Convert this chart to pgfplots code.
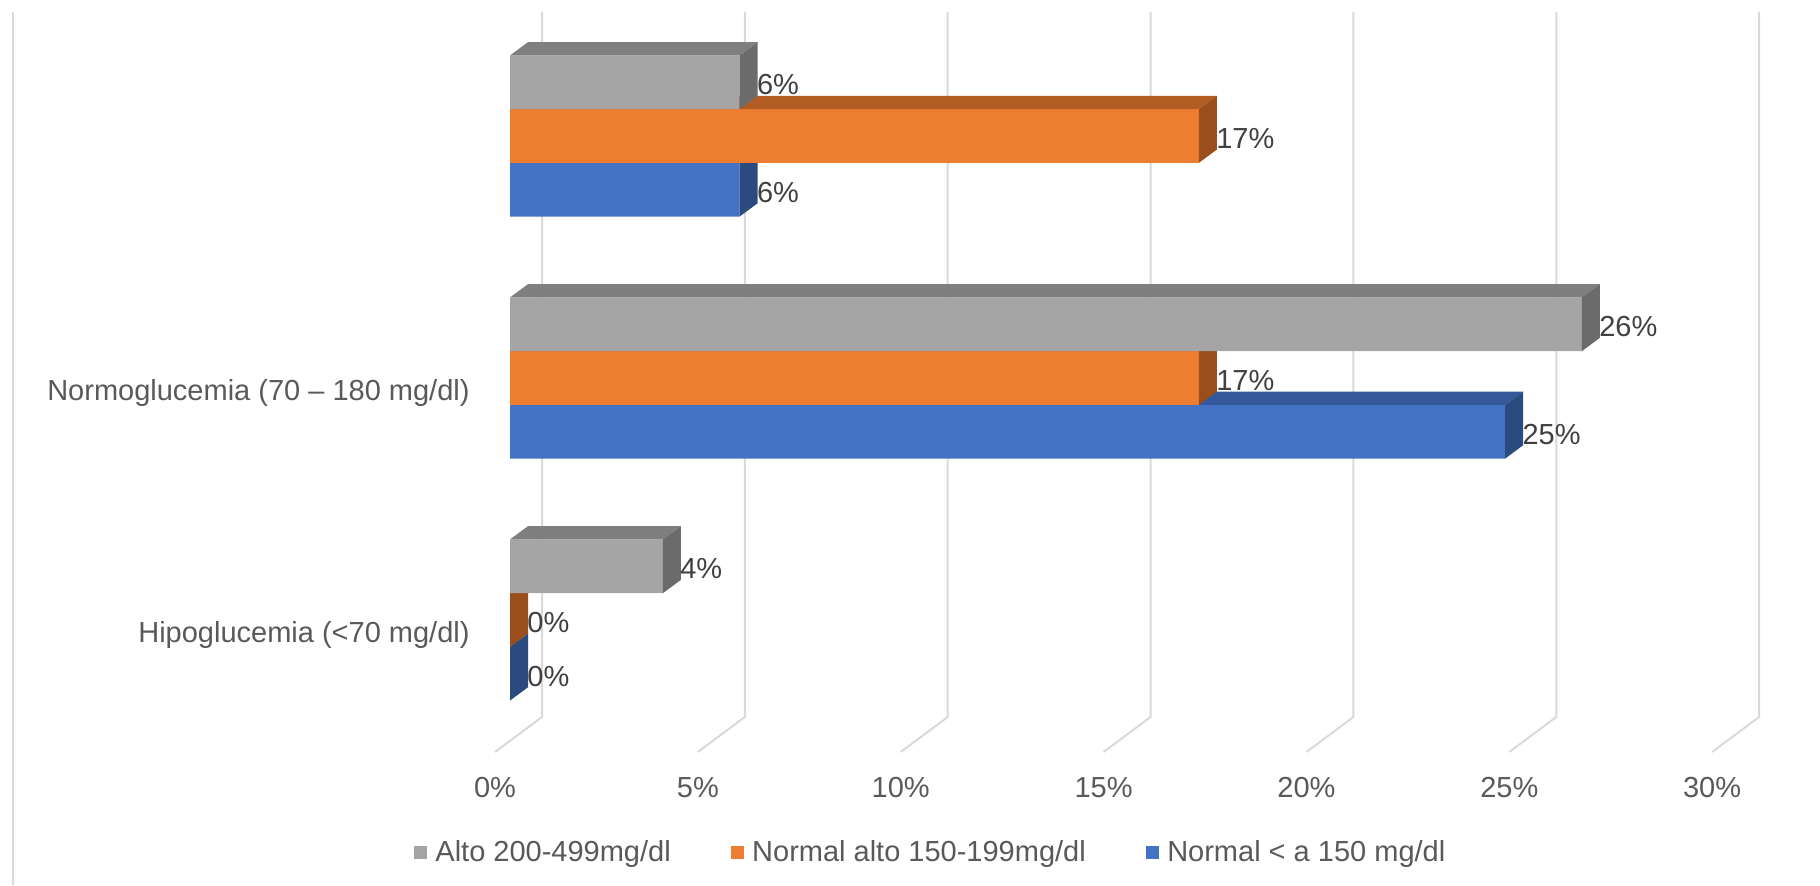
\documentclass[border=0pt]{standalone}
\usepackage{fontspec}
\setmainfont{Liberation Sans}
\usepackage{pgfplots}
\pgfplotsset{compat=1.18}
\definecolor{gA}{HTML}{A5A5A5}\definecolor{gT}{HTML}{7F7F7F}\definecolor{gS}{HTML}{6B6B6B}
\definecolor{oA}{HTML}{ED7D31}\definecolor{oT}{HTML}{B35C23}\definecolor{oS}{HTML}{9A4E1C}
\definecolor{bA}{HTML}{4472C4}\definecolor{bT}{HTML}{345899}\definecolor{bS}{HTML}{2B4A80}
\definecolor{gridc}{HTML}{D9D9D9}\definecolor{lab}{HTML}{595959}\definecolor{dlab}{HTML}{404040}
\newcommand{\fs}{\fontsize{14.5}{17.4}\selectfont}
% #1 category, #2 value, #3 bar centre offset (pt), #4 top colour, #5 side colour
\newcommand{\faces}[5]{%
 \fill[#4] ([yshift=#3pt+13.425pt]axis cs:0,#1) -- ([yshift=#3pt+13.425pt]axis cs:#2,#1) -- ([xshift=9pt,yshift=#3pt+20.075pt]axis cs:#2,#1) -- ([xshift=9pt,yshift=#3pt+20.075pt]axis cs:0,#1) -- cycle;
 \fill[#5] ([yshift=#3pt+13.425pt]axis cs:#2,#1) -- ([yshift=#3pt-13.425pt]axis cs:#2,#1) -- ([xshift=9pt,yshift=#3pt-6.775pt]axis cs:#2,#1) -- ([xshift=9pt,yshift=#3pt+20.075pt]axis cs:#2,#1) -- cycle;}
\pgfplotsset{
  lbl/.style={point meta=x,
    nodes near coords={\pgfmathprintnumber[fixed,precision=0,assume math mode=true]{\pgfplotspointmeta}\%},
    nodes near coords style={anchor=west, xshift=8.5pt, yshift=#1-1.3pt, inner sep=0pt, text=dlab, font=\fs}},
}
\begin{document}
\begin{tikzpicture}
\begin{axis}[
  scale only axis, width=910pt, height=442.5pt,
  xmin=-12.5709, xmax=32.2899, ymin=-1.0950, ymax=2.5620,
  hide axis, clip=false,
  legend image code/.code={\fill[#1] (0pt,-3.3pt) rectangle (6.4pt,3.3pt);},
  legend columns=3, legend cell align=left,
  legend style={at={(axis cs:-2.366,-0.960)}, anchor=west, draw=none, fill=none,
    inner sep=0pt, outer sep=0pt, font=\fs, text=lab,
    nodes={inner sep=0pt},
    /tikz/every odd column/.append style={column sep=4.3pt},
    /tikz/every even column/.append style={column sep=30pt}},
]
\path (rel axis cs:0,0) rectangle (rel axis cs:1,1);
% chart border (left) and gridlines on back wall / floor
\draw[gridc, line width=0.8pt] (axis cs:-12.25,2.512) -- (axis cs:-12.25,-1.095);
\pgfplotsinvokeforeach{0,5,10,15,20,25,30}{
  \draw[gridc, line width=1pt] ([xshift=16pt,yshift=12pt]axis cs:#1,2.415) -- ([xshift=16pt,yshift=12pt]axis cs:#1,-0.5) -- ([xshift=-7.5pt,yshift=-5.5pt]axis cs:#1,-0.5);
  \node[anchor=base, inner sep=0pt, text=lab, font=\fs] at ([xshift=-7.5pt]axis cs:#1,-0.732) {#1\%};
}
\node[anchor=base east, inner sep=0pt, text=lab, font=\fs] at (axis cs:-0.986,0.9074) {Normoglucemia (70 – 180 mg/dl)};
\node[anchor=base east, inner sep=0pt, text=lab, font=\fs] at (axis cs:-0.986,-0.0913) {Hipoglucemia (<70 mg/dl)};
% Normal < a 150 mg/dl (blue)
\addplot[xbar, forget plot, fill=bA, draw=none, bar width=26.85pt, bar shift=-26.85pt, lbl=-26.85pt]
  coordinates {(0,0) (24.53,1) (5.66,2)};
\faces{0}{0}{-26.85}{bT}{bS}
\faces{1}{24.53}{-26.85}{bT}{bS}
\faces{2}{5.66}{-26.85}{bT}{bS}
% Normal alto 150-199mg/dl (orange)
\addplot[xbar, forget plot, fill=oA, draw=none, bar width=26.85pt, bar shift=0pt, lbl=0pt]
  coordinates {(0,0) (16.98,1) (16.98,2)};
\faces{0}{0}{0}{oT}{oS}
\faces{1}{16.98}{0}{oT}{oS}
\faces{2}{16.98}{0}{oT}{oS}
% Alto 200-499mg/dl (grey)
\addplot[xbar, forget plot, fill=gA, draw=none, bar width=26.85pt, bar shift=26.85pt, lbl=26.85pt]
  coordinates {(3.77,0) (26.42,1) (5.66,2)};
\faces{0}{3.77}{26.85}{gT}{gS}
\faces{1}{26.42}{26.85}{gT}{gS}
\faces{2}{5.66}{26.85}{gT}{gS}
\addlegendimage{fill=gA, draw=none}\addlegendentry{Alto 200-499mg/dl}
\addlegendimage{fill=oA, draw=none}\addlegendentry{Normal alto 150-199mg/dl}
\addlegendimage{fill=bA, draw=none}\addlegendentry{Normal < a 150 mg/dl}
\end{axis}
\end{tikzpicture}
\end{document}
